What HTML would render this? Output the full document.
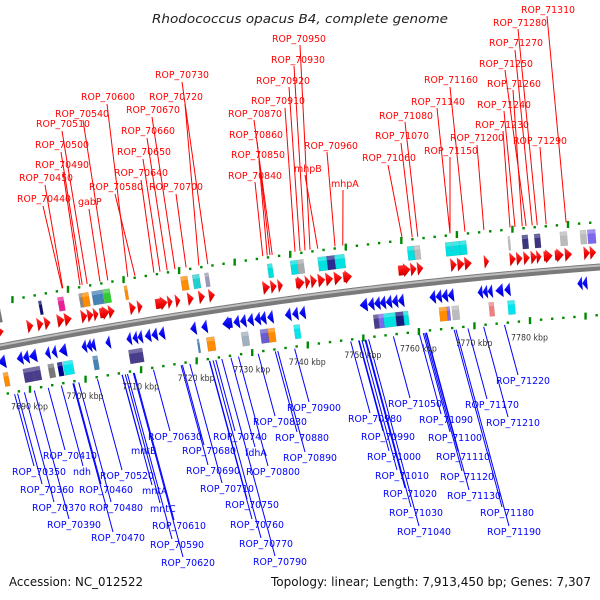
<!DOCTYPE html>
<html><head><meta charset="utf-8"><style>
html,body{margin:0;padding:0;background:#fff;}
svg{display:block;font-family:"DejaVu Sans","Liberation Sans",sans-serif;}
</style></head><body>
<svg id="chart" width="600" height="600" viewBox="0 0 600 600" xmlns="http://www.w3.org/2000/svg">
<defs>
<linearGradient id="gRed" x1="0" y1="0" x2="0" y2="1"><stop offset="0" stop-color="#ff4040"/><stop offset="0.6" stop-color="#f00000"/><stop offset="1" stop-color="#b00000"/></linearGradient>
<linearGradient id="gBlue" x1="0" y1="0" x2="0" y2="1"><stop offset="0" stop-color="#3030ff"/><stop offset="0.6" stop-color="#0000f0"/><stop offset="1" stop-color="#0000b0"/></linearGradient>
<linearGradient id="gTube" x1="0" y1="0" x2="0" y2="1"><stop offset="0" stop-color="#bbb"/><stop offset="0.5" stop-color="#888"/><stop offset="1" stop-color="#555"/></linearGradient>
</defs>
<text x="152" y="23" font-size="12.5" font-style="italic" fill="#222" textLength="296" lengthAdjust="spacingAndGlyphs">Rhodococcus opacus B4, complete genome</text>
<g id="labels"></g>
<g id="band"></g>
<text x="9" y="586" font-size="12" fill="#111" textLength="134" lengthAdjust="spacingAndGlyphs">Accession: NC_012522</text>
<text x="271" y="586" font-size="12" fill="#111" textLength="320" lengthAdjust="spacingAndGlyphs">Topology: linear; Length: 7,913,450 bp; Genes: 7,307</text>
</svg>
<script>
// ---- data (kbp) ----
const fwdStart=[7684.0,7690.0,7691.8,7693.1,7695.4,7696.7,7699.7,7700.8,7701.9,7703.0,7704.6,7708.4,7709.8,7713.0,7715.2,7716.6,7718.8,7720.8,7722.6,7732.3,7733.7,7735.0,7738.2,7739.9,7740.9,7742.2,7743.6,7745.1,7746.7,7756.6,7758.8,7760.0,7766.0,7767.2,7768.5,7772.0,7776.6,7777.8,7779.1,7780.4,7781.4,7782.7,7784.7,7786.5,7789.9,7791.0];
const fwdLen=[1.8,1.1,1.1,1.1,1.3,1.3,1.1,1.1,0.9,1.8,1.1,1.1,0.9,2.2,0.9,0.9,1.1,1.1,1.1,1.3,1.1,0.9,1.6,0.9,1.1,1.3,1.3,1.4,1.6,2.2,1.1,1.1,1.1,1.3,1.3,0.9,1.1,1.1,1.1,1.1,0.9,1.6,1.6,1.3,1.1,1.1];
const revStart=[7683.7,7687.1,7688.2,7689.3,7692.2,7693.4,7694.7,7698.8,7699.7,7700.4,7703.1,7706.9,7708.0,7708.9,7710.2,7711.4,7712.7,7718.4,7720.4,7724.2,7726.2,7727.4,7728.7,7730.0,7731.0,7732.3,7735.5,7736.8,7738.1,7749.0,7750.5,7751.6,7752.6,7753.7,7754.8,7755.9,7761.6,7762.7,7763.8,7764.9,7770.3,7771.2,7772.1,7773.5,7775.1,7788.3,7789.2];
const revLen=[1.4,1.1,1.1,1.4,0.9,0.9,1.4,0.9,0.9,0.9,0.9,0.9,0.9,0.9,1.1,1.1,1.1,1.1,1.1,1.8,1.1,1.1,1.1,1.1,1.1,1.1,1.1,1.1,1.1,1.4,1.1,1.1,1.1,1.1,1.1,1.1,1.1,1.1,1.1,1.1,0.9,0.9,0.9,1.4,1.1,0.9,0.9];
const topBoxStart=[7684.1,7692.7,7696.1,7699.9,7700.4,7702.2,7704.2,7708.0,7718.1,7720.2,7722.4,7733.6,7737.7,7739.0,7742.6,7744.2,7745.6,7758.6,7759.8,7765.4,7766.7,7767.9,7776.6,7779.1,7781.3,7785.9,7789.5,7790.8];
const topBoxLen=[1.8,0.54,1.08,0.72,1.26,1.98,1.26,0.54,1.26,1.26,0.72,0.9,1.26,1.08,1.8,1.44,1.8,1.26,1.08,1.26,1.26,1.26,0.36,1.08,1.08,1.26,1.08,1.44];
const topBoxColor=["#777","#101070","#e8209a","#888","#ff8c00","#4682b4","#33cc33","#ff8c00","#ff8c00","#20d0d0","#9a9ab8","#00dede","#00dede","#aaa","#00e0e0","#2a2a90","#00e0e0","#00e0e0","#bbb","#00e0e0","#00e0e0","#00e0e0","#bbb","#3a3580","#3a3580","#bbb","#bbb","#7b68ee"];
const botBoxStart=[7684.2,7687.8,7689.6,7692.3,7694.0,7695.0,7700.4,7706.9,7719.3,7721.0,7727.3,7730.7,7732.1,7736.8,7751.2,7752.1,7753.0,7755.2,7756.6,7763.1,7764.5,7765.4,7772.1,7775.5];
const botBoxLen=[0.9,1.8,1.26,1.08,0.9,1.8,0.9,2.52,0.36,1.44,1.26,1.44,1.26,1.08,0.9,0.9,2.16,1.44,0.9,1.44,0.54,1.26,0.9,1.26];
const botBoxColor=["#ff8c00","#483d8b","#483d8b","#777","#00008b","#00e5ee","#4682b4","#483d8b","#4682b4","#ff8c00","#9fb0c0","#6a5acd","#ff8c00","#00e5ee","#483d8b","#7b68ee","#00e0e0","#1a1a80","#00e0e0","#ff8c00","#7b68ee","#bbb","#f08080","#00e5ee"];
const tickKbp=[7690,7700,7710,7720,7730,7740,7750,7760,7770,7780];
const tickLabels=["7690 kbp","7700 kbp","7710 kbp","7720 kbp","7730 kbp","7740 kbp","7750 kbp","7760 kbp","7770 kbp","7780 kbp"];
const fwdNames=["ROP_70440","ROP_70450","ROP_70490","ROP_70500","ROP_70510","gabP","ROP_70540","ROP_70600","ROP_70580","ROP_70640","ROP_70650","ROP_70660","ROP_70670","ROP_70700","ROP_70720","ROP_70730","ROP_70840","ROP_70850","ROP_70860","ROP_70870","ROP_70910","ROP_70920","ROP_70930","ROP_70950","ROP_70960","mhpB","mhpA","ROP_71060","ROP_71070","ROP_71080","ROP_71140","ROP_71150","ROP_71160","ROP_71200","ROP_71230","ROP_71240","ROP_71260","ROP_71250","ROP_71270","ROP_71280","ROP_71290","ROP_71310"];
const fwdLoci=[7695.8,7695.9,7699.0,7699.4,7700.3,7702.6,7704.0,7707.6,7708.9,7712.3,7713.4,7714.7,7716.1,7718.1,7720.4,7722.0,7731.9,7732.7,7733.2,7733.6,7737.7,7738.6,7739.5,7740.4,7744.9,7741.8,7746.3,7757.0,7758.8,7759.8,7765.6,7765.6,7768.3,7771.7,7776.4,7777.3,7778.6,7779.3,7780.4,7781.3,7782.9,7786.5];
// layout of red labels: text x, baseline y, line start x, y
const fwdLabelPos=[[17,202,43,206],[19,181,45,185],[35,168,63,172],[35,148,61,152],[36,127,62,131],[78,205,89,209],[55,117,83,120],[81,100,107,104],[89,190,115,194],[114,176,141,180],[117,155,143,159],[121,134,147,138],[126,113,152,117],[149,190,176,194],[149,100,185,104],[155,78,182,82],[228,179,255,182],[231,158,259,161],[229,138,257,141],[228,117,254,120],[251,104,285,108],[256,84,289,87],[271,63,294,66],[272,42,300,45],[304,149,327,152],[294,172,305,175],[331,187,343,190],[362,161,388,165],[375,139,401,143],[379,119,405,122],[411,105,437,108],[424,154,450,157],[424,83,450,87],[450,141,477,145],[475,128,503,131],[477,108,504,111],[487,87,513,90],[479,67,505,70],[489,46,515,50],[493,26,518,29],[513,144,540,147],[521,13,547,16]];
const revNames=["ROP_70410","ROP_70350","ndh","ROP_70520","mntB","ROP_70630","ROP_70740","ROP_70680","fdhA","ROP_70360","ROP_70460","mntA","ROP_70690","ROP_70800","ROP_70710","ROP_70370","ROP_70480","mntC","ROP_70750","ROP_70390","ROP_70610","ROP_70760","ROP_70470","ROP_70590","ROP_70770","ROP_70620","ROP_70790","ROP_70830","ROP_70880","ROP_70890","ROP_70900","ROP_71050","ROP_70980","ROP_70990","ROP_71000","ROP_71010","ROP_71020","ROP_71030","ROP_71040","ROP_71090","ROP_71100","ROP_71110","ROP_71120","ROP_71130","ROP_71170","ROP_71210","ROP_71180","ROP_71190","ROP_71220"];
const revLabelPos=[[43,459],[12,475],[73,475],[100,479],[131,454],[148,440],[213,440],[182,454],[245,456],[20,493],[79,493],[142,494],[186,474],[246,475],[200,492],[32,511],[89,511],[150,512],[225,508],[47,528],[152,529],[230,528],[91,541],[150,548],[239,547],[161,566],[253,565],[253,425],[275,441],[283,461],[287,411],[388,407],[348,422],[361,440],[367,460],[375,479],[383,497],[389,516],[397,535],[419,423],[428,441],[436,460],[440,480],[447,499],[465,408],[486,426],[480,516],[487,535],[496,384]];

// ---- axis functions ----
const NS="http://www.w3.org/2000/svg";
function X(k){return (k-7684.6)/0.18;}
function Y(x){return 347-0.1933*x+0.0001*x*x;}
function ang(x){return Math.atan(-0.1933+0.0002*x)*180/Math.PI;}
function mk(tag,attrs,parent){const e=document.createElementNS(NS,tag);for(const a in attrs)e.setAttribute(a,attrs[a]);parent.appendChild(e);return e;}
const band=document.getElementById('band');
const labels=document.getElementById('labels');

// label lines + texts
fwdNames.forEach((n,i)=>{
  const p=fwdLabelPos[i];const tx=X(fwdLoci[i]);
  const l=mk('line',{x1:p[2],y1:p[3],x2:tx,y2:Y(tx)-47,stroke:'#ff0000','stroke-width':1},labels);
  
  
  const a={x:p[0],y:p[1],'font-size':9.5,fill:'#ff0000'};
  if(n.startsWith('ROP'))Object.assign(a,{textLength:54,lengthAdjust:'spacingAndGlyphs'});
  const t=mk('text',a,labels);t.textContent=n;
  
  
});
revNames.forEach((n,i)=>{
  const p=revLabelPos[i];
  const ex=p[0]+(n.startsWith('ROP')?22:10), ey=p[1]-9;
  let sx=ex;for(let j=0;j<6;j++){const sy=Y(sx)+50;sx=ex-(ey-sy)*0.27;}
  const l=mk('line',{x1:sx,y1:Y(sx)+50,x2:ex,y2:ey,stroke:'#0000ff','stroke-width':1},labels);
  
  
  const a={x:p[0],y:p[1],'font-size':9.5,fill:'#0000ff'};
  if(n.startsWith('ROP'))Object.assign(a,{textLength:54,lengthAdjust:'spacingAndGlyphs'});
  const t=mk('text',a,labels);t.textContent=n;
  
  
});

// white background for band so leader lines hide behind it
(function(){let d='';for(let x=-10;x<=610;x+=10){d+=(x<0?'M':'L')+x+','+(Y(x)-46);}for(let x=610;x>=-10;x-=10){d+='L'+x+','+(Y(x)+49);}
 const bg=mk('path',{d:d+'Z',fill:'#fff'},band);
 
 })();

// ticks
for(let k=7680;k<=7796;k+=2){
  const big=(k%10===0);
  [[48,0],[-45,38]].forEach(r=>{
    const x=X(k)+r[1];if(x<-5||x>605)return;
    const y=Y(x)+r[0];
    const e=mk('rect',{x:x-1.2,y:big?y-3.5:y-1.2,width:2.4,height:big?7:2.4,fill:'#008a00',transform:'rotate('+(big?0:0)+')'},band);
    
    
  });
}
tickKbp.forEach((k,i)=>{
  const x=X(k);
  const t=mk('text',{x:x-19,y:Y(x)+68,'font-size':8.5,fill:'#333',textLength:37,lengthAdjust:'spacingAndGlyphs'},band);
  t.textContent=tickLabels[i];
  
  
});

// tube
(function(){let d='';for(let x=-10;x<=610;x+=5){d+=(x<0?'M':'L')+x+','+Y(x);}
 const p1=mk('path',{d:d,stroke:'#7a7a7a','stroke-width':7,fill:'none'},band);
 
 
 const p2=mk('path',{d:d,stroke:'#bdbdbd','stroke-width':2,fill:'none',transform:'translate(0,-1.5)'},band);
 
 })();

function group(xm){return mk('g',{transform:'translate('+xm+','+Y(xm)+') rotate('+ang(xm)+')'},band);}
// boxes
function boxes(starts,lens,cols,dy,name){
  starts.forEach((s,i)=>{
    const x0=X(s),w=lens[i]/0.18,xm=x0+w/2;
    const g=group(xm);
    const r=mk('rect',{x:-w/2,y:dy,width:w,height:14,fill:cols[i],stroke:'rgba(0,0,0,0.15)','stroke-width':0.5},g);
    
    
    mk('rect',{x:-w/2,y:dy,width:w,height:4,fill:'rgba(255,255,255,0.25)'},g);
  });
}
boxes(topBoxStart,topBoxLen,topBoxColor,-38,'forward-feature-box');
boxes(botBoxStart,botBoxLen,botBoxColor,26,'reverse-feature-box');
// arrows
function arrows(starts,lens,dir,dy,fill,name){
  starts.forEach((s,i)=>{
    const x0=X(s),w=lens[i]/0.18,xm=x0+w/2,h=7;
    const g=group(xm);
    let pts;const L=-w/2,R=w/2;
    if(w<=8){pts=dir>0?[[L,dy-h],[R,dy],[L,dy+h]]:[[R,dy-h],[L,dy],[R,dy+h]];}
    else if(dir>0){const hx=R-7;pts=[[L,dy-5],[hx,dy-5],[hx,dy-h],[R,dy],[hx,dy+h],[hx,dy+5],[L,dy+5]];}
    else{const hx=L+7;pts=[[R,dy-5],[hx,dy-5],[hx,dy-h],[L,dy],[hx,dy+h],[hx,dy+5],[R,dy+5]];}
    const p=mk('polygon',{points:pts.map(q=>q.join(',')).join(' '),fill:fill},g);
    
    
  });
}
arrows(fwdStart,fwdLen,1,-15,'url(#gRed)','forward-gene-arrow');
arrows(revStart,revLen,-1,15,'url(#gBlue)','reverse-gene-arrow');
</script>
</body></html>
